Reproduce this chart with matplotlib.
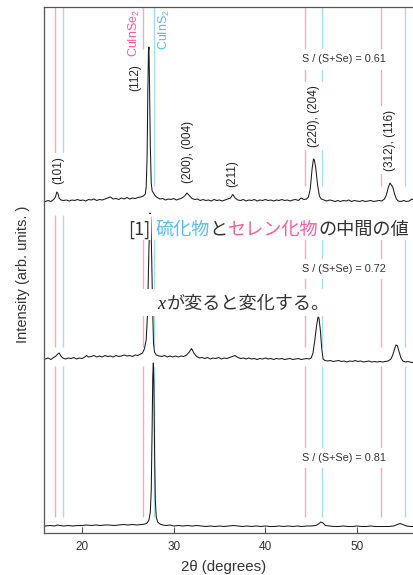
import matplotlib
matplotlib.use("Agg")
import matplotlib.pyplot as plt
from matplotlib.transforms import IdentityTransform
from matplotlib.patches import Rectangle

# ---------------- data (2theta, intensity in arb. units) ----------------
samples = ["0.61", "0.72", "0.81"]

pts_061 = [
    (16.0, -0.5), (16.3, 0.5), (16.6, -0.5), (16.9, 1.5), (17.1, 4), (17.25, 9), (17.35, 8), (17.5, 3),
    (17.7, 1), (18.0, 0.5), (18.3, 1), (18.6, 0), (18.9, 1), (19.2, 0.5), (19.5, 1.5), (19.8, 0.5),
    (20.1, 1), (20.4, 0), (20.7, 1.5), (21.0, 1), (21.3, 2), (21.6, 0.5), (21.9, 1.5), (22.2, 1),
    (22.5, 2), (22.8, 3), (23.1, 4), (23.4, 2), (23.7, 2.5), (24.0, 1.5), (24.3, 3), (24.6, 2),
    (24.9, 3.5), (25.2, 2), (25.5, 3), (25.8, 2.5), (26.1, 3.5), (26.4, 4), (26.7, 5), (26.9, 7),
    (27.0, 14), (27.1, 45), (27.18, 110), (27.25, 150), (27.3, 154), (27.36, 120), (27.45, 55),
    (27.55, 18), (27.65, 10), (27.8, 8), (28.0, 5), (28.2, 3.5), (28.5, 2), (28.8, 2.5), (29.1, 1),
    (29.4, 2), (29.7, 1.5), (30.0, 2.5), (30.3, 1), (30.6, 2), (30.9, 3), (31.2, 5), (31.45, 8),
    (31.7, 5.5), (32.0, 2.5), (32.3, 1.5), (32.6, 2), (32.9, 0.5), (33.2, 1.5), (33.5, 0.5), (33.8, 1),
    (34.1, 0), (34.4, 1.5), (34.7, 0.5), (35.0, 1), (35.3, 0), (35.6, 1), (35.9, 2), (36.2, 3),
    (36.45, 6.5), (36.7, 3), (37.0, 1), (37.3, 0.5), (37.6, 1.5), (37.9, 0), (38.2, 1), (38.5, 0.5),
    (38.8, 1.5), (39.1, 0), (39.4, 1), (39.7, 0.5), (40.0, 1.5), (40.3, 0.5), (40.6, 1), (40.9, 0),
    (41.2, 1), (41.5, 0.5), (41.8, 1.5), (42.1, 0.5), (42.4, 1), (42.7, 0), (43.0, 1), (43.3, 1.5),
    (43.6, 0.5), (43.9, 3), (44.2, 1.5), (44.5, 2), (44.7, 4), (44.9, 12), (45.1, 32), (45.25, 42),
    (45.35, 41), (45.5, 33), (45.7, 16), (45.9, 5), (46.1, 2), (46.4, 1), (46.7, 0), (47.0, 1),
    (47.3, 0.5), (47.6, -0.5), (47.9, 0.5), (48.2, -0.5), (48.5, 0.5), (48.8, 0), (49.1, 1),
    (49.4, -0.5), (49.7, 0.5), (50.0, 0), (50.3, -0.5), (50.6, 0.5), (50.9, -0.5), (51.2, 0),
    (51.5, 0.5), (51.8, -0.5), (52.1, 0), (52.4, 0.5), (52.7, 0), (53.0, 2), (53.2, 6), (53.4, 13),
    (53.6, 18), (53.75, 16), (53.9, 14), (54.1, 7), (54.3, 2), (54.5, 0), (54.8, -0.5), (55.1, 0.5),
    (55.4, -0.5), (55.7, 0), (56.0, 2), (56.3, 0),
]

pts_072 = [
    (16.0, -1), (16.3, 0), (16.6, -1.5), (16.9, 0.5), (17.1, 1.5), (17.3, 3.5), (17.5, 5), (17.7, 2),
    (17.9, 0), (18.2, -1), (18.5, 0), (18.8, -0.5), (19.1, 0.5), (19.4, -1), (19.7, 0), (20.0, -0.5),
    (20.3, 1), (20.5, 2.5), (20.7, 1), (21.0, 1.5), (21.3, 2.5), (21.6, 1), (21.9, 2), (22.2, 1),
    (22.5, 2.5), (22.8, 1.5), (23.1, 2), (23.4, 1), (23.7, 2.5), (24.0, 1.5), (24.3, 2), (24.6, 3),
    (24.9, 2), (25.2, 2.5), (25.5, 1.5), (25.8, 3), (26.1, 2.5), (26.4, 4), (26.6, 5), (26.8, 9),
    (27.0, 18), (27.15, 45), (27.3, 110), (27.42, 145), (27.5, 140), (27.6, 100), (27.7, 50),
    (27.8, 15), (27.9, 6), (28.1, 3), (28.4, 2), (28.7, 1.5), (29.0, 2.5), (29.3, 1), (29.6, 2),
    (29.9, 1), (30.2, 2), (30.5, 1), (30.8, 2), (31.1, 1.5), (31.4, 3), (31.7, 6), (31.95, 9.5),
    (32.2, 5), (32.5, 1.5), (32.8, 0), (33.1, 0.5), (33.4, -0.5), (33.7, 0.5), (34.0, -1), (34.3, 0),
    (34.6, -0.5), (34.9, 0.5), (35.2, -1), (35.5, 0), (35.8, -0.5), (36.1, 0.5), (36.4, 1.5),
    (36.7, 2.5), (37.0, 0.5), (37.3, -0.5), (37.6, 0), (37.9, -1), (38.2, 0), (38.5, -1), (38.8, -0.5),
    (39.1, -1.5), (39.4, -0.5), (39.7, -1), (40.0, 0), (40.3, -1), (40.6, -0.5), (40.9, -1.5),
    (41.2, -0.5), (41.5, -1), (41.8, -0.5), (42.1, -1.5), (42.4, -1), (42.7, -0.5), (43.0, -1.5),
    (43.3, -1), (43.6, -0.5), (43.9, -1.5), (44.2, -1), (44.5, -0.5), (44.8, -1), (45.0, 0), (45.2, 5),
    (45.4, 18), (45.6, 33), (45.75, 41), (45.85, 40), (46.0, 28), (46.15, 10), (46.3, -1),
    (46.5, -2.5), (46.8, -3), (47.1, -2.5), (47.4, -3.5), (47.7, -3), (48.0, -2.5), (48.3, -3.5),
    (48.6, -3), (48.9, -4), (49.2, -3), (49.5, -3.5), (49.8, -2.5), (50.1, -3.5), (50.4, -3),
    (50.7, -4), (51.0, -3.5), (51.3, -3), (51.6, -4), (51.9, -3.5), (52.2, -4), (52.5, -3.5),
    (52.8, -4), (53.1, -3.5), (53.4, -3), (53.7, -1), (53.9, 3), (54.1, 9), (54.25, 13), (54.4, 12.5),
    (54.6, 6), (54.8, 0), (55.0, -3), (55.3, -4), (55.6, -3.5), (55.9, -4.5), (56.3, -4),
]

pts_081 = [
    (16.0, 0), (16.5, 0.5), (17.0, 0), (17.3, 1), (17.6, 0.5), (18.0, 0), (18.5, 0.5), (19.0, 0),
    (19.5, 0.5), (20.0, 0.5), (20.5, 1), (21.0, 0.5), (21.5, 1), (22.0, 0.5), (22.5, 1), (23.0, 1),
    (23.5, 0.5), (24.0, 1), (24.5, 1.5), (25.0, 1), (25.5, 1.5), (26.0, 1), (26.5, 1.5), (26.9, 2),
    (27.1, 3), (27.3, 6), (27.45, 14), (27.55, 35), (27.65, 100), (27.72, 150), (27.78, 163),
    (27.84, 140), (27.92, 70), (28.0, 25), (28.1, 9), (28.25, 4), (28.5, 2), (28.8, 1), (29.2, 0.5),
    (29.6, 1), (30.0, 0), (30.5, 0.5), (31.0, 0), (31.5, 0.5), (32.0, 0), (32.5, 0.5), (33.0, 0),
    (33.5, -0.5), (34.0, 0), (34.5, -0.5), (35.0, 0), (35.5, -0.5), (36.0, 0), (36.5, 0.5), (37.0, 0),
    (37.5, -0.5), (38.0, 0), (38.5, -0.5), (39.0, 0), (39.5, -0.5), (40.0, 0), (40.5, -0.5),
    (41.0, -0.5), (41.5, 0), (42.0, -0.5), (42.5, 0), (43.0, -0.5), (43.5, 0), (44.0, -0.5), (44.5, 0),
    (45.0, 0), (45.5, 0.5), (45.8, 2), (46.05, 4), (46.3, 3), (46.55, 0.5), (47.0, 0), (47.5, -0.5),
    (48.0, -0.5), (48.5, 0), (49.0, -0.5), (49.5, -0.5), (50.0, 0), (50.5, -0.5), (51.0, -0.5),
    (51.5, 0), (52.0, -0.5), (52.5, -0.5), (53.0, -0.5), (53.5, -0.5), (54.0, 0), (54.4, 1.5),
    (54.7, 2.5), (55.0, 1.5), (55.4, 0), (55.8, -0.5), (56.3, -0.5),
]

# reference peak positions
cuinse2_pos = [17.09, 26.69, 44.37, 52.62]
cuins2_pos = [17.96, 27.88, 46.23, 55.27]

hkl_labels = ["(101)", "(112)", "(200), (004)", "(211)", "(220), (204)", "(312), (116)"]
hkl_pos = [17.41, 25.85, 31.56, 36.36, 45.31, 53.6]
xticks = [20, 30, 40, 50]

# ---------------- styling / layout ----------------
W, H = 414, 575
PINK_LINE = "#f6a9c4"
BLUE_LINE = "#a9daf3"
PINK_TXT = "#ff5a9a"
BLUE_TXT = "#55bdf0"
DARK = "#333333"

plt.rcParams["font.family"] = ["Liberation Sans", "DejaVu Sans"]
plt.rcParams["mathtext.fontset"] = "custom"
plt.rcParams["mathtext.rm"] = "Liberation Sans"
plt.rcParams["mathtext.default"] = "regular"

fig = plt.figure(figsize=(W / 100, H / 100), dpi=100)
ax = fig.add_axes([44 / W, 42 / H, 370 / W, 526 / H])
ax.set_xlim(15.85, 56.22)
ax.set_ylim(0, 526)

offsets = [332, 175, 7]
datasets = [pts_061, pts_072, pts_081]
vseg = [(347, 526), (186, 318), (16, 167)]

# vertical reference lines
for pi, (y0, y1) in enumerate(vseg):
    for x in cuinse2_pos:
        top = y1
        bot = y0
        if pi == 0 and x == 26.69:
            bot = 484
        ax.plot([x, x], [bot, top], color=PINK_LINE, lw=1.0, zorder=1, solid_capstyle="butt")
    for x in cuins2_pos:
        ax.plot([x, x], [y0, y1], color=BLUE_LINE, lw=1.0, zorder=1, solid_capstyle="butt")

# patterns
for pts, off in zip(datasets, offsets):
    xs = [p[0] for p in pts]
    ys = [p[1] + off for p in pts]
    ax.plot(xs, ys, color="#1a1a1a", lw=0.75, zorder=2)

# hkl labels (top pattern)
hkl_y = [363, 455, 381, 359.5, 417, 393]
for lab, x, y in zip(hkl_labels, hkl_pos, hkl_y):
    ax.text(x, y, lab, rotation=90, ha="center", va="center", fontsize=8.5, color="#222222",
            zorder=3, bbox=dict(boxstyle="square,pad=0.3", fc="white", ec="none"))

ax.text(25.74, 524, "CuInSe$_2$", rotation=90, ha="center", va="top", fontsize=9, color=PINK_TXT, zorder=3)
ax.text(29.0, 524, "CuInS$_2$", rotation=90, ha="center", va="top", fontsize=9, color=BLUE_TXT, zorder=3)

# composition labels
for s, y in zip(samples, [473.5, 264, 75]):
    ax.text(48.58, y, "S / (S+Se) = " + s, ha="center", va="center", fontsize=7.8, color=DARK,
            zorder=3, bbox=dict(boxstyle="square,pad=0.5", fc="white", ec="none"))

# axes styling
for side in ["left", "bottom", "top"]:
    ax.spines[side].set_color("#555555")
    ax.spines[side].set_linewidth(0.9)
ax.spines["right"].set_visible(False)
ax.set_yticks([])
ax.set_xticks(xticks)
ax.tick_params(axis="x", direction="in", length=4, width=0.8, colors="#555555",
               labelcolor=DARK, labelsize=8.5, pad=6)
ax.set_xlabel("2θ (degrees)", fontsize=10.8, color=DARK)
ax.xaxis.set_label_coords((224 - 44) / 370, -33.5 / 526)
ax.xaxis.label.set_va("center")
ax.set_ylabel("Intensity (arb. units. )", fontsize=10.5, color=DARK)
ax.yaxis.set_label_coords(-(44 - 23.5) / 370, (533 - 274) / 526)
ax.yaxis.label.set_va("center")

# ---------------- Japanese overlay text ----------------
ID = IdentityTransform()
renderer = fig.canvas.get_renderer()
JP = ["Noto Sans CJK JP", "DejaVu Sans"]
FS = 13.1


def put_pieces(pieces, x0, base):
    x = x0
    spans = []
    for txt, color, fam, style, gap in pieces:
        t = fig.text(x, base, txt, transform=ID, fontsize=FS, color=color, family=fam,
                     style=style, va="baseline", ha="left", zorder=4)
        bb = t.get_window_extent(renderer=renderer)
        spans.append((bb.x0, bb.x1))
        x = bb.x1 + gap
    return spans


line1 = [("[1]", DARK, JP, "normal", 5), ("硫化物", BLUE_TXT, JP, "normal", 0),
         ("と", DARK, JP, "normal", 0), ("セレン化物", PINK_TXT, JP, "normal", 0),
         ("の中間の値", DARK, JP, "normal", 0)]
sp = put_pieces(line1, 128, H - 235)
fig.add_artist(Rectangle((sp[0][0] - 2, H - 240), sp[0][1] - sp[0][0] + 3, 26, transform=ID,
                         fc="white", ec="none", zorder=3.5))
fig.add_artist(Rectangle((sp[1][0] - 1, H - 240), W - sp[1][0] + 2, 26, transform=ID,
                         fc="white", ec="none", zorder=3.5))

line2 = [("x", "#222222", ["Liberation Serif"], "italic", 2),
         ("が変ると変化する。", DARK, JP, "normal", 0)]
sp2 = put_pieces(line2, 157, H - 309)
fig.add_artist(Rectangle((139, H - 316), sp2[-1][1] - 139 + 8, 27, transform=ID,
                         fc="white", ec="none", zorder=3.5))

fig.savefig("out.png", dpi=100)
